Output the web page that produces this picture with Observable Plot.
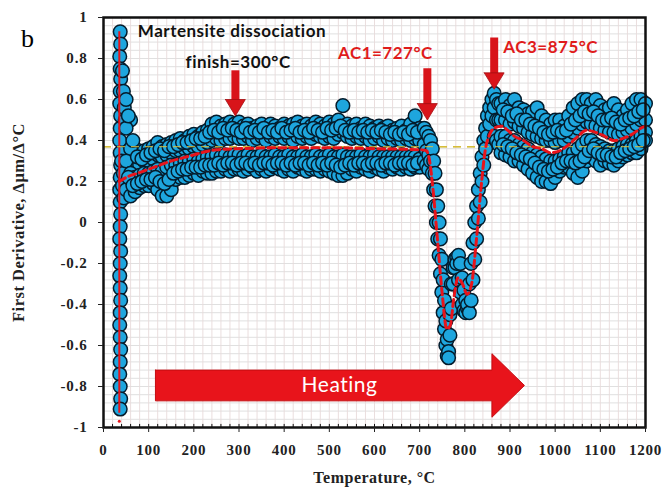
<!DOCTYPE html>
<html><head><meta charset="utf-8">
<script src="https://cdn.jsdelivr.net/npm/d3@7"></script>
<script src="https://cdn.jsdelivr.net/npm/@observablehq/plot@0.6"></script>
<style>
body{margin:0;background:#fff}
#wrap{position:relative;width:664px;height:491px}
#wrap svg{position:absolute;left:0;top:0}
.b{position:absolute;left:21px;top:24px;font:26px "Liberation Serif",serif;z-index:2}
g[aria-label="x-axis tick label"] text, g[aria-label="y-axis tick label"] text{letter-spacing:0.8px}
g[aria-label="text"] text{letter-spacing:0.5px}
</style>
</head><body><div id="wrap"><div class="b">b</div></div>
<script>
// ---- data ----
const xTicks = [0,100,200,300,400,500,600,700,800,900,1000,1100,1200];
const yTicks = [-1,-0.8,-0.6,-0.4,-0.2,0,0.2,0.4,0.6,0.8,1];

// vertical column of points at the start of heating
const colT = [37,38,36,37,38,37,36,38,37,36,37,38,37,36,37,38,37,36,38,37,36,37,38,37,36,37,38,37,36,37,38,37];
const colV = [0.93,0.87,0.81,0.75,0.7,0.64,0.58,0.52,0.46,0.4,0.34,0.28,0.22,0.16,0.1,0.04,-0.02,-0.08,-0.14,-0.2,-0.26,-0.32,-0.38,-0.44,-0.5,-0.56,-0.62,-0.68,-0.74,-0.8,-0.86,-0.91];
const spikeT = [42,44,46,48,42,45,40,44];
const spikeV = [0.74,0.64,0.56,0.5,0.18,0.12,0.3,0.24];

// plateau (50-700 °C): overlapping bands of points
const plateauT = [50,60,70,80,90,100,110,120,130,140,150,160,170,180,190,200,210,220,230,240,250,260,270,280,290,300,310,320,330,340,350,360,370,380,390,400,410,420,430,440,450,460,470,480,490,500,510,520,530,540,550,560,570,580,590,600,610,620,630,640,650,660,670,680,690,700];
const plateauHi = [0.6,0.5,0.36,0.34,0.35,0.36,0.37,0.39,0.37,0.38,0.39,0.4,0.41,0.4,0.42,0.43,0.42,0.44,0.45,0.48,0.49,0.47,0.48,0.49,0.48,0.49,0.47,0.48,0.46,0.47,0.48,0.46,0.48,0.47,0.46,0.48,0.47,0.48,0.49,0.47,0.48,0.47,0.49,0.48,0.47,0.49,0.48,0.5,0.57,0.48,0.47,0.48,0.46,0.48,0.47,0.46,0.47,0.46,0.47,0.45,0.46,0.47,0.45,0.48,0.52,0.46];
const plateauM1 = [0.46,0.36,0.3,0.28,0.3,0.3,0.31,0.33,0.32,0.33,0.34,0.35,0.35,0.36,0.36,0.37,0.37,0.38,0.39,0.4,0.41,0.4,0.41,0.41,0.42,0.41,0.41,0.42,0.4,0.41,0.42,0.4,0.42,0.41,0.42,0.41,0.42,0.4,0.42,0.41,0.42,0.41,0.43,0.42,0.41,0.42,0.41,0.43,0.44,0.42,0.41,0.42,0.41,0.42,0.4,0.41,0.42,0.4,0.41,0.4,0.41,0.4,0.41,0.4,0.41,0.4];
const plateauM2 = [0.3,0.24,0.22,0.23,0.24,0.24,0.25,0.26,0.25,0.27,0.28,0.28,0.29,0.3,0.3,0.31,0.3,0.31,0.32,0.32,0.33,0.32,0.33,0.32,0.33,0.33,0.32,0.33,0.32,0.32,0.33,0.32,0.32,0.33,0.32,0.32,0.33,0.32,0.32,0.33,0.32,0.32,0.33,0.32,0.32,0.33,0.32,0.32,0.33,0.32,0.32,0.32,0.33,0.32,0.32,0.33,0.32,0.32,0.32,0.32,0.32,0.32,0.32,0.32,0.32,0.31];
const plateauLo = [0.16,0.13,0.15,0.17,0.18,0.18,0.19,0.16,0.13,0.13,0.16,0.21,0.22,0.22,0.23,0.24,0.23,0.25,0.24,0.24,0.25,0.25,0.26,0.25,0.26,0.26,0.25,0.26,0.27,0.25,0.26,0.25,0.26,0.27,0.26,0.25,0.26,0.25,0.27,0.26,0.25,0.26,0.26,0.25,0.26,0.25,0.24,0.23,0.23,0.24,0.26,0.25,0.27,0.26,0.25,0.27,0.26,0.25,0.27,0.26,0.27,0.26,0.27,0.26,0.27,0.27];
const plateauT2 = [55,65,75,85,95,105,115,125,135,145,155,165,175,185,195,205,215,225,235,245,255,265,275,285,295,305,315,325,335,345,355,365,375,385,395,405,415,425,435,445,455,465,475,485,495,505,515,525,535,545,555,565,575,585,595,605,615,625,635,645,655,665,675,685,695];
const plateauM3 = [0.52,0.4,0.32,0.31,0.33,0.34,0.35,0.36,0.35,0.37, 0.37,0.38,0.39,0.39,0.4,0.41,0.41,0.42,0.44,0.45, 0.44,0.46,0.45,0.46,0.45,0.44,0.46,0.44,0.45,0.44, 0.46,0.44,0.45,0.44,0.46,0.44,0.45,0.46,0.44,0.45, 0.44,0.46,0.45,0.44,0.46,0.45,0.46,0.47,0.45,0.44, 0.45,0.44,0.45,0.44,0.45,0.44,0.45,0.44,0.43,0.44, 0.43,0.44,0.43,0.45,0.44];
const plateauM4 = [0.22,0.18,0.19,0.2,0.21,0.21,0.22,0.2,0.19,0.21, 0.24,0.25,0.26,0.26,0.27,0.27,0.27,0.28,0.28,0.28, 0.29,0.28,0.29,0.29,0.28,0.29,0.29,0.28,0.29,0.28, 0.29,0.29,0.28,0.29,0.29,0.28,0.29,0.28,0.29,0.29, 0.28,0.29,0.28,0.29,0.28,0.29,0.28,0.27,0.28,0.29, 0.28,0.29,0.29,0.28,0.29,0.29,0.28,0.29,0.29,0.28, 0.29,0.29,0.29,0.28,0.29];

// transformation region (710-875 °C)
const transT = [710,710,710,715,715,715,720,720,720,724,724,728,728,731,731,734,734,737,737,740,740,743,743,746,746,749,749,752,752,755,755,758,758,761,761,764,764,767,767,770,770,774,774,778,778,782,782,786,786,790,790,794,794,798,798,802,802,806,806,810,810,814,814,818,818,822,822,826,826,830,830,834,834,838,838,842,842,846,846,850,850,855,855,860,860,865,865,865,870,870,870,875,875,875];
const transV = [0.46,0.38,0.3,0.44,0.35,0.28,0.42,0.33,0.26,0.4,0.3,0.36,0.24,0.3,0.16,0.24,0.08,0.16,0.0,0.08,-0.08,0.0,-0.16,-0.08,-0.25,-0.18,-0.34,-0.28,-0.44,-0.38,-0.52,-0.48,-0.6,-0.57,-0.65,-0.63,-0.66,-0.55,-0.45,-0.42,-0.3,-0.3,-0.22,-0.22,-0.18,-0.17,-0.2,-0.16,-0.28,-0.2,-0.34,-0.27,-0.4,-0.33,-0.43,-0.38,-0.44,-0.42,-0.4,-0.44,-0.3,-0.38,-0.2,-0.28,-0.1,-0.18,0.0,-0.08,0.08,0.02,0.16,0.1,0.24,0.2,0.32,0.28,0.4,0.36,0.46,0.42,0.52,0.48,0.56,0.52,0.6,0.56,0.63,0.42,0.6,0.5,0.4,0.58,0.5,0.38];

// austenite region (880-1200 °C)
const postT = [880,890,900,910,920,930,940,950,960,970,980,990,1000,1010,1020,1030,1040,1050,1060,1070,1080,1090,1100,1110,1120,1130,1140,1150,1160,1170,1180,1190,1200];
const postHi = [0.58,0.6,0.57,0.6,0.56,0.55,0.53,0.54,0.56,0.52,0.5,0.48,0.5,0.5,0.47,0.52,0.56,0.58,0.6,0.6,0.58,0.6,0.57,0.55,0.56,0.58,0.55,0.52,0.55,0.58,0.6,0.6,0.58];
const postM1 = [0.5,0.5,0.48,0.49,0.47,0.46,0.44,0.43,0.42,0.41,0.4,0.4,0.39,0.4,0.4,0.42,0.44,0.46,0.48,0.49,0.48,0.47,0.46,0.45,0.44,0.44,0.43,0.44,0.45,0.46,0.48,0.5,0.5];
const postM2 = [0.42,0.42,0.4,0.4,0.38,0.37,0.36,0.34,0.33,0.32,0.31,0.3,0.3,0.31,0.32,0.34,0.34,0.36,0.38,0.4,0.4,0.38,0.37,0.36,0.35,0.35,0.36,0.37,0.38,0.38,0.4,0.42,0.44];
const postLo = [0.34,0.33,0.32,0.3,0.3,0.28,0.26,0.24,0.22,0.2,0.2,0.19,0.22,0.25,0.27,0.27,0.24,0.22,0.25,0.3,0.32,0.3,0.28,0.3,0.29,0.28,0.3,0.32,0.33,0.34,0.34,0.36,0.4];
const postT2 = [885,895,905,915,925,935,945,955,965,975,985,995,1005,1015,1025,1035,1045,1055,1065,1075,1085,1095,1105,1115,1125,1135,1145,1155,1165,1175,1185,1195];
const postM3 = [0.55,0.54,0.52,0.53,0.5,0.5,0.48,0.47,0.46,0.44, 0.43,0.44,0.45,0.44,0.45,0.48,0.5,0.52,0.54,0.53, 0.54,0.52,0.5,0.5,0.51,0.49,0.48,0.5,0.51,0.52, 0.54,0.55];
const postM4 = [0.38,0.37,0.36,0.34,0.33,0.32,0.31,0.29,0.27,0.26, 0.25,0.26,0.27,0.29,0.3,0.3,0.29,0.3,0.32,0.35, 0.36,0.34,0.33,0.33,0.32,0.32,0.34,0.35,0.36,0.37, 0.38,0.4];

// smoothed trend (red dashed)
const meanT = [35,50,75,100,125,150,175,200,225,250,300,400,500,600,700,715,722,730,740,750,760,768,775,785,795,805,815,825,835,845,855,865,880,895,910,930,950,970,990,1010,1030,1050,1070,1090,1110,1130,1150,1170,1190,1200];
const meanV = [0.2,0.22,0.24,0.26,0.28,0.3,0.315,0.33,0.345,0.355,0.36,0.365,0.365,0.36,0.355,0.35,0.3,0.15,-0.1,-0.35,-0.52,-0.5,-0.38,-0.27,-0.3,-0.35,-0.3,-0.1,0.15,0.35,0.43,0.46,0.47,0.45,0.42,0.4,0.37,0.36,0.34,0.35,0.38,0.42,0.45,0.44,0.42,0.4,0.41,0.43,0.46,0.47];

const startLine = {T: 35, top: 0.93, bottom: -0.93, dot: -0.97};
const refLevel = 0.37;

const arrowsDown = [
  {T: 292, top: 0.74, tip: 0.52},
  {T: 717, top: 0.75, tip: 0.5},
  {T: 865, top: 0.9, tip: 0.65}
];
const labelsStart = [
  {T: 76, v: 0.93, text: "Martensite dissociation", color: "#111"}
];
const labelsMid = [
  {T: 298, v: 0.78, text: "finish=300°C", color: "#111"},
  {T: 624, v: 0.824, text: "AC1=727°C", color: "#e01b1b"},
  {T: 990, v: 0.854, text: "AC3=875°C", color: "#e01b1b"}
];
const heating = {from: 115, neck: 860, tip: 932, mid: -0.795, body: 0.075, head: 0.155, text: "Heating"};

// ---- build tables ----
const pts = [];
colT.forEach((t,i) => pts.push({T: t, v: colV[i]}));
spikeT.forEach((t,i) => pts.push({T: t, v: spikeV[i]}));
[plateauHi, plateauM1, plateauM2, plateauLo].forEach(s => plateauT.forEach((t,i) => pts.push({T: t, v: s[i]})));
[plateauM3, plateauM4].forEach(s => plateauT2.forEach((t,i) => pts.push({T: t, v: s[i]})));
transT.forEach((t,i) => pts.push({T: t, v: transV[i]}));
[postHi, postM1, postM2, postLo].forEach(s => postT.forEach((t,i) => pts.push({T: t, v: s[i]})));
[postM3, postM4].forEach(s => postT2.forEach((t,i) => pts.push({T: t, v: s[i]})));
const mean = meanT.map((t,i) => ({T: t, v: meanV[i]}));

const red = "#e8141b";
const shafts = arrowsDown.map(a => ({T: a.T, y1: a.top, y2: a.tip + 0.07}));
const heads = arrowsDown.map(a => [
  {T: a.T - 22, v: a.tip + 0.08}, {T: a.T + 22, v: a.tip + 0.08}, {T: a.T, v: a.tip}, {T: a.T - 22, v: a.tip + 0.08}
]);
const h = heating;
const heatPoly = [
  {T: h.from, v: h.mid + h.body}, {T: h.neck, v: h.mid + h.body}, {T: h.neck, v: h.mid + h.head},
  {T: h.tip, v: h.mid}, {T: h.neck, v: h.mid - h.head}, {T: h.neck, v: h.mid - h.body},
  {T: h.from, v: h.mid - h.body}, {T: h.from, v: h.mid + h.body}
];

const minorX = d3.range(0, 1201, 20);
const minorY = d3.range(-1, 1.001, 0.04).map(d => +d.toFixed(2));

const serif = "Liberation Serif";
const sans = "Lato";

const chart = Plot.plot({
  width: 664, height: 491,
  marginLeft: 103, marginRight: 19, marginTop: 17, marginBottom: 64,
  x: {domain: [0, 1200]},
  y: {domain: [-1, 1]},
  style: {fontFamily: serif, fontWeight: "bold", fontSize: "15px", color: "#222", background: "white"},
  marks: [
    Plot.gridY(minorY, {stroke: "#dcdcdc", strokeOpacity: 1, strokeWidth: 0.9}),
    Plot.gridX(minorX, {stroke: "#e8dada", strokeOpacity: 1, strokeWidth: 0.9}),
    Plot.ruleY([refLevel], {stroke: "#c8b02a", strokeWidth: 1.5, strokeDasharray: "8,6"}),
    Plot.dot(pts, {x: "T", y: "v", r: 6.8, fill: "#1ea6de", stroke: "#041c2c", strokeWidth: 1.5}),
    Plot.ruleX([startLine], {x: "T", y1: "top", y2: "bottom", stroke: red, strokeWidth: 2}),
    Plot.dot([startLine], {x: "T", y: "dot", r: 1.5, fill: red}),
    Plot.ruleY([refLevel], {stroke: "#d9c040", strokeWidth: 1.2, strokeDasharray: "8,6", strokeOpacity: 0.8}),
    Plot.line(mean, {x: "T", y: "v", stroke: red, strokeWidth: 3, strokeDasharray: "7,4", curve: "monotone-x"}),
    Plot.ruleX(shafts, {x: "T", y1: "y1", y2: "y2", stroke: "#d8141a", strokeWidth: 8}),
    ...heads.map(hd => Plot.line(hd, {x: "T", y: "v", fill: "#d8141a", stroke: "#a50d10", strokeWidth: 0.8})),
    Plot.line(heatPoly, {x: "T", y: "v", fill: red, stroke: "#c40d12", strokeWidth: 1}),
    Plot.text([h], {x: d => (d.from + d.neck) / 2 + 35, y: "mid", text: "text", fill: "white", fontFamily: sans, fontWeight: "normal", fontSize: 21}),
    Plot.text(labelsStart, {x: "T", y: "v", text: "text", fill: "color", textAnchor: "start", fontFamily: sans, fontWeight: "bold", fontSize: 17}),
    Plot.text(labelsMid, {x: "T", y: "v", text: "text", fill: "color", textAnchor: "middle", fontFamily: sans, fontWeight: "bold", fontSize: 17}),
    Plot.frame({stroke: "#111", strokeWidth: 2.5}),
    Plot.ruleX(minorX, {y1: -1, y2: -0.985, stroke: "#111", strokeWidth: 1}),
    Plot.axisX({ticks: xTicks, tickSize: 5, tickPadding: 12, tickFormat: d => String(d), label: null, fontSize: 15, fontWeight: "bold"}),
    Plot.axisY({ticks: yTicks, tickSize: 5, tickPadding: 11, tickFormat: d => String(d), label: null, fontSize: 15, fontWeight: "bold"}),
    Plot.text(["First Derivative, Δμm/Δ°C"], {frameAnchor: "left", textAnchor: "middle", dx: -85, rotate: -90, fontFamily: serif, fontWeight: "bold", fontSize: 16.5}),
    Plot.text(["Temperature, °C"], {frameAnchor: "bottom", textAnchor: "middle", dy: 55, fontFamily: serif, fontWeight: "bold", fontSize: 16})
  ]
});
document.getElementById("wrap").append(chart);
</script>
</body></html>
